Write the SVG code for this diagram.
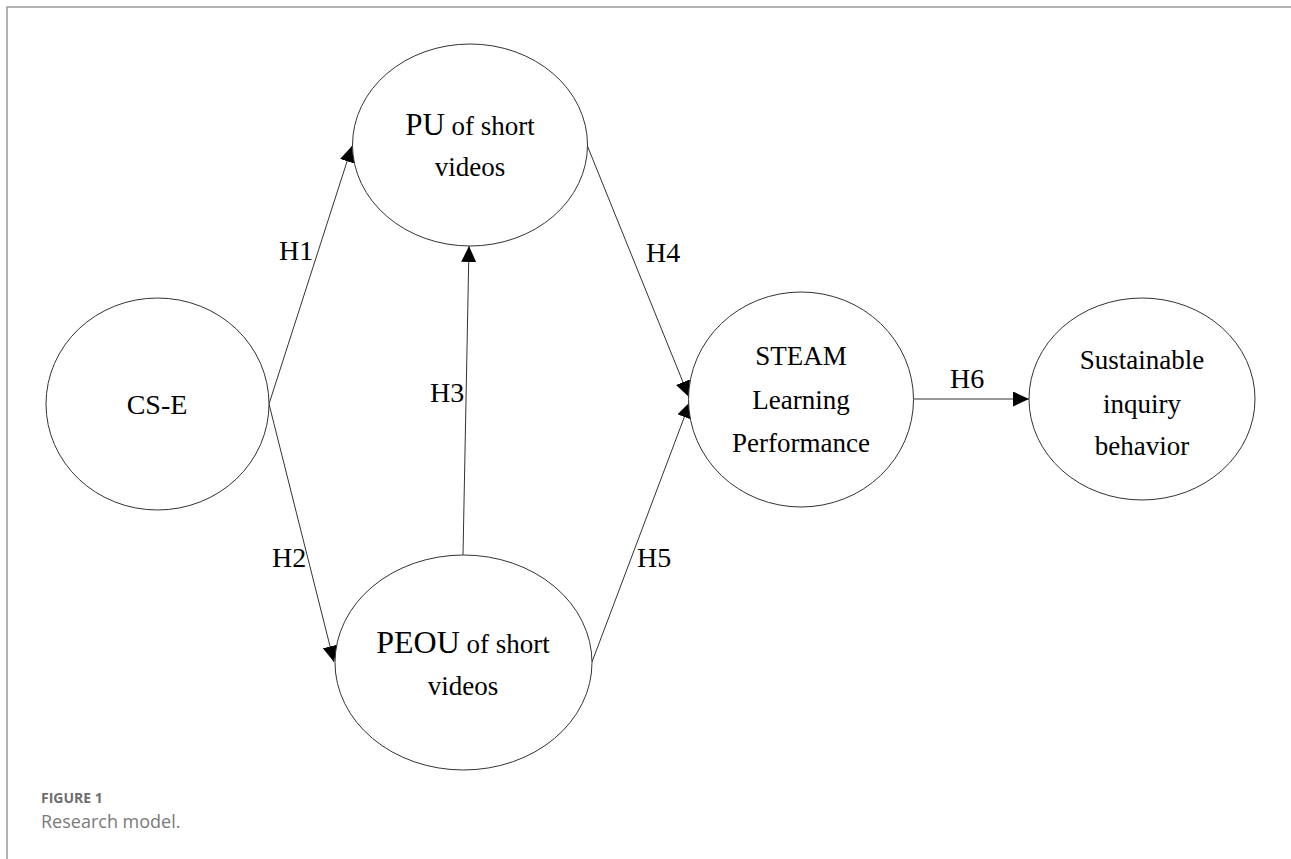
<svg xmlns="http://www.w3.org/2000/svg" width="1291" height="859" viewBox="0 0 1291 859">
  <defs>
    <marker id="arrow" markerUnits="userSpaceOnUse" markerWidth="17" markerHeight="15" refX="16" refY="7.5" orient="auto">
      <path d="M0,0 L16,7.5 L0,15 z" fill="#000"/>
    </marker>
    <style>
      .frame { stroke: #9a9a9a; stroke-width: 1.5; fill: none; }
      .node { fill: #fff; stroke: #333; stroke-width: 1; }
      .edge { stroke: #333; stroke-width: 1; fill: none; marker-end: url(#arrow); }
      .t { font-family: "Liberation Serif", "Times New Roman", serif; font-size: 27px; fill: #000; text-anchor: middle; }
      .big { font-size: 31px; }
      .lbl { font-family: "Liberation Serif", "Times New Roman", serif; font-size: 28px; fill: #000; }
      .cap1 { font-family: "Open Sans", "Liberation Sans", sans-serif; font-size: 14px; font-weight: bold; fill: #6e6e6e; }
      .cap2 { font-family: "Open Sans", "Liberation Sans", sans-serif; font-size: 18px; fill: #7a7a7a; }
    </style>
  </defs>
  <rect width="1291" height="859" fill="#fff"/>
  <g id="frame">
    <path class="frame" d="M7,859 L7,7 L1291,7"/>
  </g>
  <g id="connectors">
    <line class="edge" x1="269" y1="404" x2="352" y2="146"/>
    <line class="edge" x1="269" y1="404" x2="334" y2="662"/>
    <line class="edge" x1="463" y1="555" x2="469" y2="246"/>
    <line class="edge" x1="587" y1="145" x2="689" y2="397"/>
    <line class="edge" x1="592" y1="662" x2="690" y2="402"/>
    <line class="edge" x1="914" y1="399" x2="1029" y2="399"/>
  </g>
  <g id="edge-labels">
    <text class="lbl" x="279" y="260">H1</text>
    <text class="lbl" x="272" y="567">H2</text>
    <text class="lbl" x="430" y="402">H3</text>
    <text class="lbl" x="646" y="262">H4</text>
    <text class="lbl" x="637" y="567">H5</text>
    <text class="lbl" x="950" y="388">H6</text>
  </g>
  <g id="node-cse">
    <ellipse class="node" cx="157.5" cy="404" rx="111.5" ry="106"/>
    <text class="t" x="157" y="414" style="font-size:28px">CS-E</text>
  </g>
  <g id="node-pu">
    <ellipse class="node" cx="470" cy="145" rx="117.5" ry="101"/>
    <text class="t" x="470" y="135"><tspan class="big">PU</tspan> of short</text>
    <text class="t" x="470" y="176">videos</text>
  </g>
  <g id="node-peou">
    <ellipse class="node" cx="463.5" cy="662.5" rx="128.5" ry="107.5"/>
    <text class="t" x="463" y="653"><tspan class="big" style="font-size:32px">PEOU</tspan> of short</text>
    <text class="t" x="463" y="695">videos</text>
  </g>
  <g id="node-steam">
    <ellipse class="node" cx="801" cy="399.5" rx="112.5" ry="107.5"/>
    <text class="t" x="801" y="365">STEAM</text>
    <text class="t" x="801" y="409">Learning</text>
    <text class="t" x="801" y="452">Performance</text>
  </g>
  <g id="node-sib">
    <ellipse class="node" cx="1142" cy="399" rx="113" ry="101"/>
    <text class="t" x="1142" y="369">Sustainable</text>
    <text class="t" x="1142" y="413">inquiry</text>
    <text class="t" x="1142" y="455">behavior</text>
  </g>
  <g id="caption">
    <text class="cap1" x="41" y="803">FIGURE 1</text>
    <text class="cap2" x="41" y="828">Research model.</text>
  </g>
</svg>
